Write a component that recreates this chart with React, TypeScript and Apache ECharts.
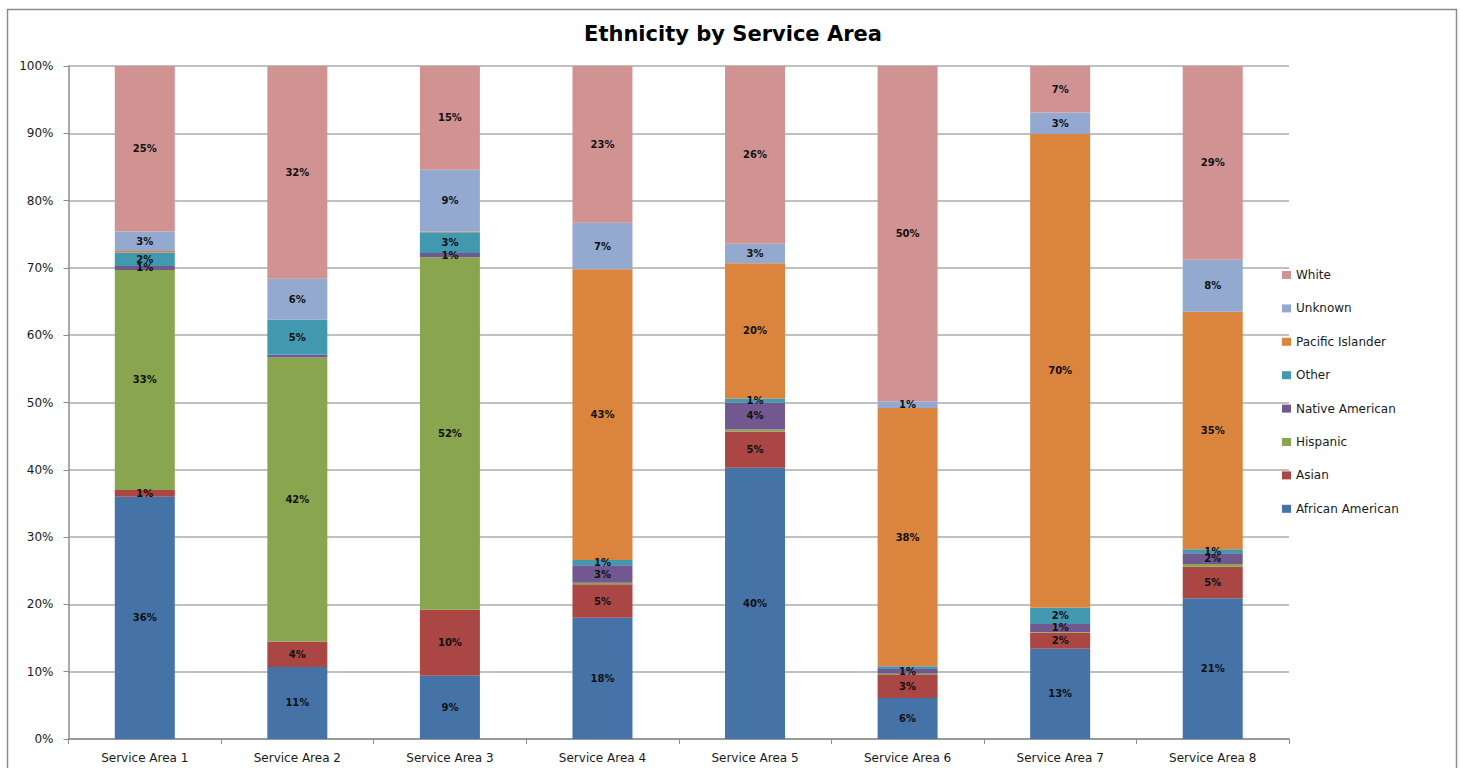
import React, { useEffect, useRef } from "react";
import * as echarts from "echarts";

const categories = [
  "Service Area 1",
  "Service Area 2",
  "Service Area 3",
  "Service Area 4",
  "Service Area 5",
  "Service Area 6",
  "Service Area 7",
  "Service Area 8",
];

const africanAmerican = [36.0, 10.7, 9.4, 18.0, 40.3, 6.1, 13.4, 20.9];
const asian = [1.0, 3.8, 9.8, 5.0, 5.4, 3.4, 2.4, 4.7];
const hispanic = [32.7, 42.2, 52.4, 0.2, 0.3, 0.2, 0.1, 0.4];
const nativeAmerican = [0.6, 0.4, 0.6, 2.6, 4.0, 0.7, 1.2, 1.6];
const other = [2.0, 5.2, 3.1, 0.8, 0.6, 0.4, 2.4, 0.6];
const pacificIslander = [0.2, 0, 0.1, 43.2, 20.1, 38.4, 70.4, 35.3];
const unknown = [2.9, 6.1, 9.2, 6.9, 2.9, 1.0, 3.2, 7.7];
const white = [24.6, 31.6, 15.4, 23.3, 26.4, 49.8, 6.9, 28.8];

const seriesNames = [
  "African American",
  "Asian",
  "Hispanic",
  "Native American",
  "Other",
  "Pacific Islander",
  "Unknown",
  "White",
];
const seriesData = [africanAmerican, asian, hispanic, nativeAmerican, other, pacificIslander, unknown, white];
const seriesColors = ["#4572A7", "#AA4643", "#89A54E", "#71588F", "#4198AF", "#DB843D", "#93A9CF", "#D19392"];

const yTicks = [0, 10, 20, 30, 40, 50, 60, 70, 80, 90, 100];

const FONT = "DejaVu Sans";

export default function App() {
  const ref = useRef<HTMLDivElement>(null);

  useEffect(() => {
    if (!ref.current) return;
    const chart = echarts.init(ref.current, undefined, { renderer: "svg" });
    const option: any = {
      animation: false,
      backgroundColor: "#ffffff",
      title: {
        text: "Ethnicity by Service Area",
        left: 728,
        textAlign: "center",
        top: 18,
        textStyle: { fontFamily: FONT, fontSize: 21, fontWeight: "bold", color: "#000000" },
      },
      graphic: [
        {
          type: "rect",
          shape: { x: 7.5, y: 9.5, width: 1449, height: 780 },
          style: { fill: "none", stroke: "#8c8c8c", lineWidth: 1.5 },
          silent: true,
        },
      ],
      legend: {
        orient: "vertical",
        left: 1277,
        top: 264,
        itemWidth: 9,
        itemHeight: 8,
        itemGap: 21.4,
        icon: "rect",
        data: [...seriesNames].reverse(),
        textStyle: { fontFamily: FONT, fontSize: 12, color: "#1a1a1a" },
      },
      grid: { left: 68.5, right: 171, top: 66, bottom: 29, containLabel: false },
      xAxis: {
        type: "category",
        data: categories,
        axisLine: { lineStyle: { color: "#8c8c8c", width: 1.5 } },
        axisTick: { show: true, length: 5, lineStyle: { color: "#8c8c8c" } },
        axisLabel: { fontFamily: FONT, fontSize: 12, color: "#1a1a1a", margin: 13 },
      },
      yAxis: {
        type: "value",
        min: yTicks[0],
        max: yTicks[yTicks.length - 1],
        interval: 10,
        axisLine: { show: true, lineStyle: { color: "#8c8c8c", width: 1.5 } },
        axisTick: { show: true, length: 5, lineStyle: { color: "#8c8c8c" } },
        axisLabel: {
          fontFamily: FONT,
          fontSize: 12,
          color: "#1a1a1a",
          margin: 15,
          formatter: (v: number) => `${v}%`,
        },
        splitLine: { lineStyle: { color: "#ababab", width: 1.5 } },
      },
      series: seriesNames.map((name, i) => ({
        name,
        type: "bar",
        stack: "total",
        barWidth: 60,
        data: seriesData[i],
        itemStyle: { color: seriesColors[i] },
        label: {
          show: true,
          position: "inside",
          fontFamily: FONT,
          fontSize: 10,
          fontWeight: "bold",
          color: "#111111",
          formatter: (p: any) => (p.value >= 0.5 ? `${Math.round(p.value)}%` : ""),
        },
      })),
    };
    chart.setOption(option);
    return () => chart.dispose();
  }, []);

  return (
    <div
      ref={ref}
      style={{ position: "fixed", left: 0, top: 0, width: 1460, height: 768, background: "#fff" }}
    />
  );
}
